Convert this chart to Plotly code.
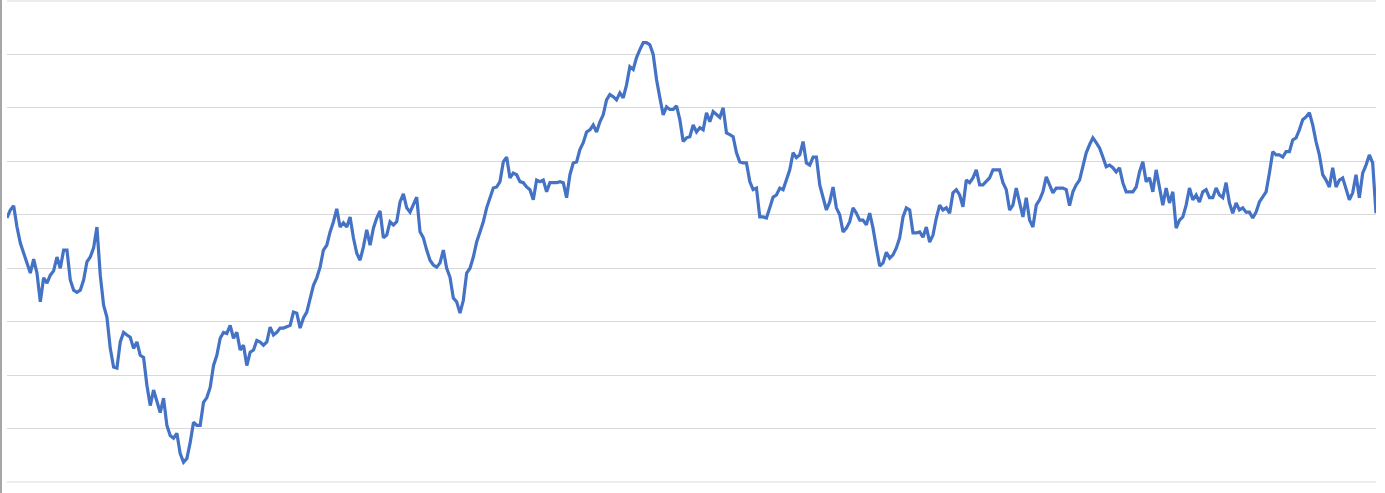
import plotly.graph_objects as go

# Series values (arbitrary level scale; gridlines every 10 units, 0..90)
values_part1 = [49.4, 50.9, 51.7, 47.7, 44.7, 42.8, 41.2, 39.1, 41.7, 39.1, 33.7, 38.2, 37.2, 38.7, 39.5, 42.1,
                40.0, 43.4, 43.4, 37.8, 35.9, 35.5, 35.9, 37.8, 41.2, 42.1, 43.8, 47.7, 38.7, 33.1, 30.8, 25.0,
                21.5, 21.3, 26.2, 28.0, 27.5, 27.1, 25.0, 26.2, 23.7, 23.3, 18.1, 14.3, 17.2, 15.3, 13.0, 15.7,
                10.6, 8.7, 8.2, 9.1, 5.3, 3.7, 4.4, 7.4, 11.2, 10.6, 10.6, 14.9, 15.8, 17.7, 21.8, 23.7, 26.9, 28.0]
values_part2 = [27.8, 29.3, 26.9, 28.0, 24.7, 25.6, 21.8, 24.3, 24.7, 26.5, 26.2, 25.6, 26.2, 29.0, 27.5, 28.0,
                28.8, 28.8, 29.0, 29.3, 31.8, 31.6, 28.8, 30.7, 31.8, 34.4, 36.8, 38.2, 40.2, 43.4, 44.3, 46.8,
                48.7, 51.1, 47.7, 48.5, 47.7, 49.6, 45.7, 42.8, 41.5, 44.0, 47.2, 44.3, 47.5, 49.4, 50.7, 45.7,
                46.2, 48.7, 48.1, 48.7, 52.4, 53.9, 51.3, 50.5, 51.8, 53.3, 46.8, 45.7, 43.4, 41.5, 40.6, 40.2,
                41.0, 43.4, 40.0, 38.3]
values_part3 = [34.4, 33.7, 31.6, 34.0, 39.1, 40.0, 42.1, 44.9, 46.8, 48.7, 51.3, 53.2, 55.0, 55.2, 56.2, 59.9,
                60.8, 56.9, 57.8, 57.5, 56.2, 56.0, 55.2, 54.7, 52.8, 56.5, 56.2, 56.5, 54.3, 56.0, 56.0, 56.0,
                56.2, 56.0, 53.2, 57.5, 59.7, 59.9, 62.2, 63.5, 65.5, 65.9, 66.8, 65.5, 67.4, 68.7, 71.5, 72.5,
                72.1, 71.5, 72.8, 71.9, 74.3, 77.7, 77.2, 79.4, 80.9, 82.2, 82.2, 81.8, 80.0, 75.3, 71.9, 68.7,
                70.2, 69.7, 69.7]
values_part4 = [70.4, 67.8, 63.7, 64.4, 64.6, 66.8, 65.5, 66.3, 65.9, 69.1, 67.4, 69.3, 68.7, 68.2, 70.0, 65.3,
                65.0, 64.6, 61.6, 59.9, 59.7, 59.7, 56.2, 54.7, 55.0, 49.6, 49.6, 49.4, 51.3, 53.3, 53.7, 55.0,
                54.7, 56.5, 58.4, 61.6, 60.7, 61.2, 63.7, 59.7, 59.3, 60.8, 60.8, 55.6, 53.2, 50.9, 52.4, 55.2,
                51.3, 50.0, 46.8, 47.5, 48.7, 51.3, 50.3, 49.0, 49.0, 48.1, 50.3, 47.5, 43.8, 40.4, 41.0, 43.0,
                41.9, 42.5, 43.8, 45.7]
values_part5 = [49.6, 51.3, 50.9, 46.6, 46.6, 46.8, 45.8, 47.7, 44.9, 46.2, 49.4, 51.8, 50.9, 51.3, 50.3, 54.1,
                54.7, 53.7, 51.5, 56.5, 56.0, 56.9, 58.4, 55.6, 55.6, 56.2, 56.9, 58.4, 58.4, 58.4, 56.0, 54.7,
                50.9, 51.8, 55.0, 52.2, 49.6, 53.2, 49.0, 47.7, 51.8, 52.8, 54.3, 57.1, 55.6, 54.1, 55.0, 55.0,
                55.0, 54.7, 51.7, 54.3, 55.6, 56.5, 59.0, 61.6, 63.1, 64.4, 63.5, 62.5, 60.8, 59.0, 59.3, 58.8,
                58.0, 58.8, 56.0]
values_part6 = [54.3, 54.3, 54.3, 55.2, 58.0, 59.9, 56.2, 56.9, 54.3, 58.4, 54.7, 51.8, 55.0, 52.2, 54.3, 47.5,
                49.0, 49.6, 51.8, 55.0, 52.8, 53.7, 52.4, 54.3, 54.7, 53.2, 53.2, 55.0, 53.7, 53.2, 56.0, 52.2,
                50.3, 52.2, 50.9, 51.3, 50.5, 50.5, 49.4, 50.5, 52.4, 53.3, 54.3, 57.8, 61.8, 61.2, 61.2, 60.8,
                61.8, 61.8, 64.0, 64.4, 65.9, 67.8, 68.3, 69.1, 66.8, 63.7, 61.2, 57.5, 56.5, 55.2, 58.8, 55.2,
                56.5, 56.9, 55.0, 52.8, 54.1, 57.5, 53.2, 57.8, 59.3, 61.2, 59.7, 50.3]

values = values_part1 + values_part2 + values_part3 + values_part4 + values_part5 + values_part6
periods = list(range(len(values)))

W, H = 1385, 493
ML, MR, MT, MB = 7, 9, 1, 11
GRID = "#d9d9d9"

fig = go.Figure()
fig.add_trace(go.Scatter(
    x=periods, y=values, mode="lines",
    line=dict(color="#4472C4", width=3.2),
    hoverinfo="skip", showlegend=False,
))

plot_w = W - ML - MR
plot_h = H - MT - MB
edge_grid = [dict(type="line", xref="paper", yref="paper", x0=0, x1=1, y0=yy, y1=yy,
                  line=dict(color=GRID, width=1), layer="below") for yy in (0, 1)]
fig.update_layout(
    width=W, height=H,
    margin=dict(l=ML, r=MR, t=MT, b=MB, pad=0),
    paper_bgcolor="white", plot_bgcolor="white",
    showlegend=False,
    xaxis=dict(range=[0, len(values) - 1], showgrid=False, zeroline=False,
               showticklabels=False, ticks="", showline=False),
    yaxis=dict(range=[0, 90], dtick=10, tick0=0, showgrid=True, gridcolor=GRID,
               gridwidth=1, zeroline=False, showticklabels=False, ticks="", showline=False),
    shapes=edge_grid + [dict(type="rect", xref="paper", yref="paper",
                             x0=-ML / plot_w, x1=(-ML + 2) / plot_w,
                             y0=-MB / plot_h, y1=1 + MT / plot_h,
                             fillcolor="#a6a6a6", line=dict(width=0), layer="above")],
)

fig.write_html("out.html", config={"displayModeBar": False},
               post_script="document.body.style.margin='0';document.body.style.overflow='hidden';")
